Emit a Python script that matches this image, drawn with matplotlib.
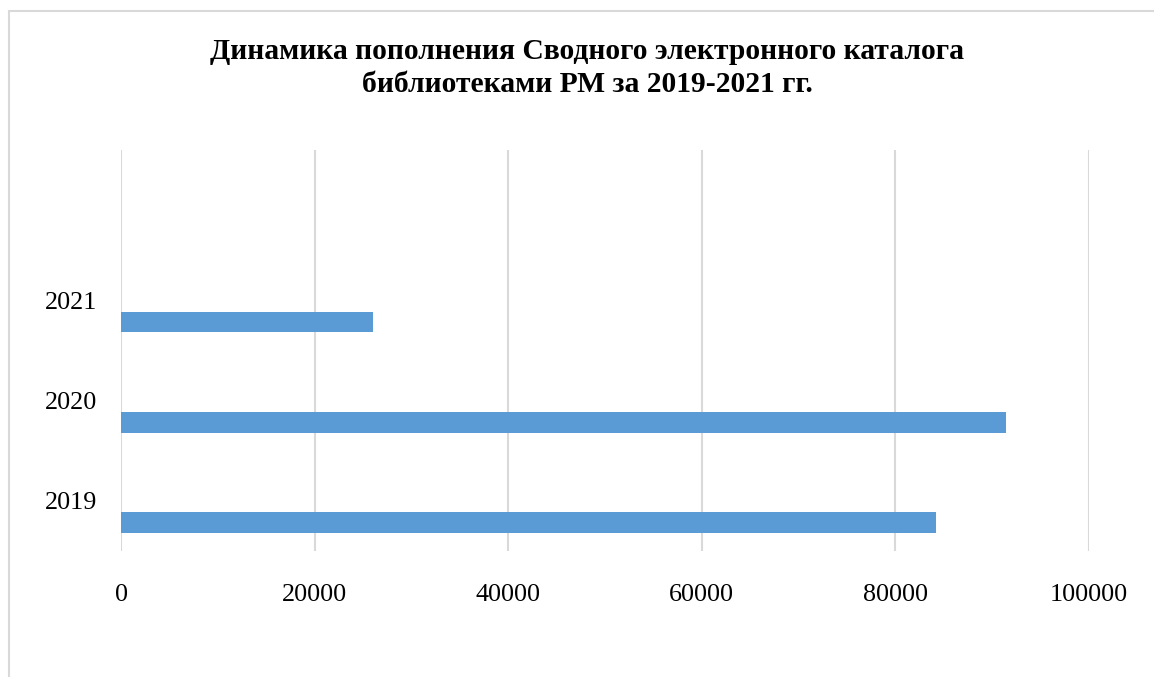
import matplotlib
matplotlib.use("Agg")
import matplotlib.pyplot as plt
from matplotlib.patches import Rectangle

categories = ["2019", "2020", "2021"]
values = [84190, 91450, 26010]
xticks = [0, 20000, 40000, 60000, 80000, 100000]
title = "Динамика пополнения Сводного электронного каталога\nбиблиотеками РМ за 2019-2021 гг."

W, H = 1154, 677
fig = plt.figure(figsize=(W / 100, H / 100), dpi=100)
fig.patch.set_facecolor("white")

# outer chart frame (extends beyond the right and bottom edges)
fig.patches.append(Rectangle((9 / W, -0.1), 1.2, 1 - 11 / H + 0.1, transform=fig.transFigure,
                             fill=False, edgecolor="#d9d9d9", linewidth=1.5))

ax = fig.add_axes([121 / W, 1 - 550.5 / H, (1088.7 - 121) / W, (550.5 - 150) / H])
pos = list(range(len(categories)))
ax.barh([p - 0.219 for p in pos], values, height=0.207, color="#5b9bd5", zorder=3)

ax.set_xlim(0, 100000)
ax.set_ylim(-0.5, 3.5)
ax.set_xticks(xticks)
ax.set_xticklabels([str(t) for t in xticks])
ax.set_yticks(pos)
ax.set_yticklabels(categories)
ax.grid(axis="x", color="#d9d9d9", linewidth=1.5, zorder=0)
for s in ax.spines.values():
    s.set_visible(False)
ax.tick_params(axis="both", length=0, labelsize=18.8, colors="black")
ax.tick_params(axis="x", pad=24)
ax.tick_params(axis="y", pad=17)
for lbl in ax.get_xticklabels() + ax.get_yticklabels():
    lbl.set_fontfamily("Liberation Serif")

fig.text(587.5 / W, 1 - 68 / H, title, ha="center", va="center", fontsize=21.3,
         fontweight="bold", fontfamily="Liberation Serif", linespacing=1.3)

fig.savefig("out.png", dpi=100, facecolor="white")
